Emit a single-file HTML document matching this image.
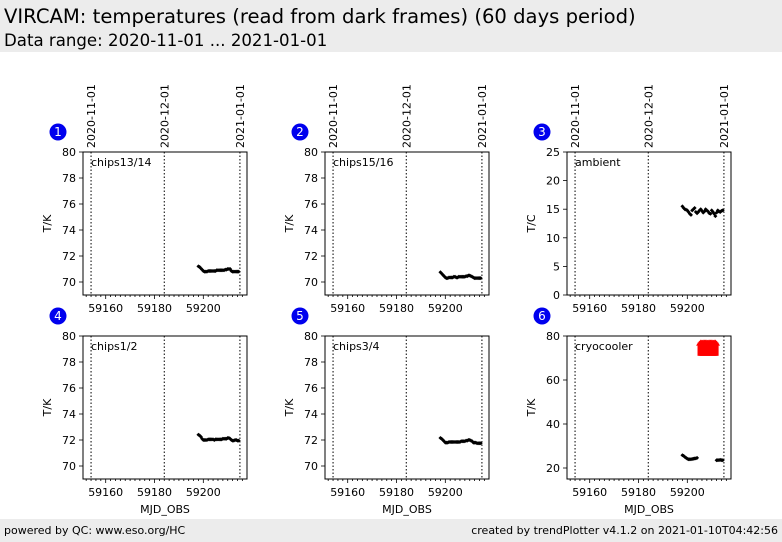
<!DOCTYPE html>
<html><head><meta charset="utf-8"><style>
body{margin:0;width:782px;height:542px;background:#fff;font-family:"DejaVu Sans","Liberation Sans",sans-serif;overflow:hidden;position:relative}
.hdr{position:absolute;left:0;top:0;width:782px;height:52px;background:#ececec}
.foot{position:absolute;left:0;top:519px;width:782px;height:23px;background:#ececec;font-size:11px}
</style></head><body>
<div class="hdr">
<div style="position:absolute;left:4px;top:5px;font-size:19.6px">VIRCAM: temperatures (read from dark frames) (60 days period)</div>
<div style="position:absolute;left:4px;top:31px;font-size:16.6px">Data range: 2020-11-01 ... 2021-01-01</div>
</div>
<div class="foot">
<span style="position:absolute;left:4px;top:5px">powered by QC: www.eso.org/HC</span>
<span style="position:absolute;right:4px;top:5px">created by trendPlotter v4.1.2 on 2021-01-10T04:42:56</span>
</div>
<svg id="chart" width="782" height="542" style="position:absolute;left:0;top:0" font-family="DejaVu Sans, Liberation Sans, sans-serif"></svg>
<script>
const panelLabels=["chips13/14","chips15/16","ambient","chips1/2","chips3/4","cryocooler"];
const panelUnits=["T/K","T/K","T/C","T/K","T/K","T/K"];
const yMins=[69,69,0,69,69,15];
const yMaxs=[80,80,25,80,80,80];
const yTicks=[[70,72,74,76,78,80],[70,72,74,76,78,80],[0,5,10,15,20,25],[70,72,74,76,78,80],[70,72,74,76,78,80],[20,40,60,80]];
const xTicks=[59160,59180,59200];
const dateLines=[59154,59184,59215];
const dateLabels=["2020-11-01","2020-12-01","2021-01-01"];
const mjd=[59198,59198.5,59199,59199.5,59200,59200.5,59201,59201.5,59202,59202.5,59203,59203.5,59204,59204.5,59205,59205.5,59206,59206.5,59207,59207.5,59208,59208.5,59209,59209.5,59210,59210.5,59211,59211.5,59212,59212.5,59213,59213.5,59214,59214.5];
const s1=[71.2,71.15,71.05,70.95,70.85,70.8,70.8,70.8,70.85,70.85,70.85,70.85,70.85,70.85,70.85,70.9,70.9,70.9,70.9,70.9,70.9,70.9,70.95,70.95,71,71,71.0,70.85,70.8,70.8,70.8,70.8,70.8,70.8];
const s2=[70.75,70.65,70.55,70.45,70.35,70.3,70.3,70.35,70.35,70.35,70.35,70.4,70.4,70.35,70.35,70.4,70.4,70.4,70.4,70.4,70.4,70.45,70.45,70.5,70.5,70.45,70.4,70.35,70.3,70.3,70.3,70.3,70.3,70.3];
const s3=[15.5,15.2,15,14.9,14.8,14.5,14.2,14,14.8,15,15.2,14.5,14.3,14.5,14.8,15,14.7,14.4,14.6,15,14.8,14.6,14.3,14.2,14.8,14.5,14.2,13.8,14.4,14.8,14.6,14.5,14.7,14.8];
const s4=[72.4,72.35,72.25,72.1,72,72,72,72,72.05,72.05,72.05,72.05,72.05,72,72.05,72.05,72.05,72.05,72.05,72.05,72.1,72.1,72.1,72.1,72.15,72.15,72.1,72,71.95,71.95,72,72,71.95,71.95];
const s5=[72.15,72.1,72,71.9,71.8,71.8,71.8,71.85,71.85,71.85,71.85,71.85,71.85,71.85,71.85,71.85,71.85,71.9,71.9,71.9,71.9,71.95,71.95,72,72,71.95,71.9,71.8,71.8,71.8,71.75,71.75,71.75,71.75];
const s6=[25.8,25.5,25,24.6,24.2,24,24,24,24.1,24.2,24.3,24.4,24.6,null,null,null,null,null,null,null,null,null,null,null,null,null,null,null,23.5,23.6,23.6,23.7,23.6,23.5];
const series=[s1,s2,s3,s4,s5,s6];
const redMjd=[59205,59205.5,59206,59206.5,59207,59207.5,59208,59208.5,59209,59209.5,59210,59210.5,59211,59211.5,59212];
const redTop=[77,77.5,77.5,77.5,77.5,77.5,77.5,77.5,77.5,77.5,77.5,77.5,77.5,77.5,77];
const redBot=[71,71,71,71,71,71,71,71,71,71,71,71,71,71,71];
const NS="http://www.w3.org/2000/svg";
const svg=document.getElementById('chart');
function mk(t,a,p){const e=document.createElementNS(NS,t);for(const k in a)e.setAttribute(k,a[k]);(p||svg).appendChild(e);return e;}
const X0=59150.7,X1=59217.9,W=164;
const cols=[83,325,567],rows=[152,336],H=143;
for(let i=0;i<6;i++){
 const L=cols[i%3],T=rows[Math.floor(i/3)];
 const g=mk('g',{});
 
 
 const xs=v=>L+(v-X0)/(X1-X0)*W;
 const ys=v=>T+H-(v-yMins[i])/(yMaxs[i]-yMins[i])*H;
 dateLines.forEach((d,j)=>{
  const ln=mk('line',{x1:xs(d),x2:xs(d),y1:T,y2:T+H,stroke:'#000','stroke-width':1,'stroke-dasharray':'1.5,2'},g);
  
  
  if(i<3){
   const tx=mk('text',{x:0,y:0,'font-size':11,transform:`translate(${xs(d)+4},${T-4}) rotate(-90)`},g);
   tx.textContent=dateLabels[j];
   
   
  }
 });
 const fr=mk('rect',{x:L,y:T,width:W,height:H,fill:'none',stroke:'#000','stroke-width':1},g);
 
 
 for(let m=59152;m<=59217;m+=2){const big=m%20===0;mk('line',{x1:xs(m),x2:xs(m),y1:T+H,y2:T+H+(big?4:2),stroke:'#000','stroke-width':0.8},g);}
 xTicks.forEach(v=>{const t=mk('text',{x:xs(v),y:T+H+17,'font-size':11,'text-anchor':'middle'},g);t.textContent=v;
  
  });
 yTicks[i].forEach(v=>{mk('line',{x1:L-4,x2:L,y1:ys(v),y2:ys(v),stroke:'#000','stroke-width':0.8},g);
  const t=mk('text',{x:L-7,y:ys(v)+4,'font-size':11,'text-anchor':'end'},g);t.textContent=v;
  
  });
 const yl=mk('text',{x:0,y:0,'font-size':11,'text-anchor':'middle',transform:`translate(${L-32},${T+H/2}) rotate(-90)`},g);
 yl.textContent=panelUnits[i];
 
 
 if(i>=3){const xl=mk('text',{x:L+W/2,y:T+H+34,'font-size':11,'text-anchor':'middle'},g);xl.textContent='MJD_OBS';
  
  }
 const lb=mk('text',{x:L+8,y:T+14,'font-size':11},g);lb.textContent=panelLabels[i];
 
 
 const bc=mk('circle',{cx:L-25,cy:T-20,r:8.5,fill:'#0000ee'},g);
 
 
 const bt=mk('text',{x:L-25,y:T-16,'font-size':12,fill:'#fff','text-anchor':'middle'},g);bt.textContent=i+1;
 
 
 series[i].forEach((v,k)=>{if(v===null)return;const x=xs(mjd[k]),y=ys(v);
  const p=mk('path',{d:`M${x-2},${y}L${x},${y-2}L${x+2},${y}L${x},${y+2}Z`,fill:'#000'},g);
  
  });
 if(i===5){redMjd.forEach((m,k)=>{const x=xs(m);
  const r=mk('rect',{x:x-2,y:ys(redTop[k]),width:4,height:ys(redBot[k])-ys(redTop[k]),fill:'#ff0000'},g);
  
  
  const a=mk('path',{d:`M${x-3.5},${ys(redTop[k])+3}L${x},${ys(redTop[k])-2}L${x+3.5},${ys(redTop[k])+3}Z`,fill:'#ff0000'},g);
  
  });}
}
</script>
</body></html>
